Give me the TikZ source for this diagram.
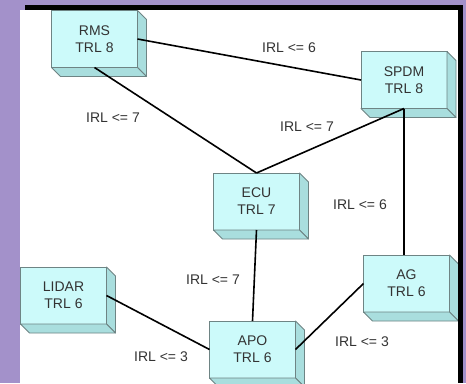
\documentclass[tikz,border=0pt]{standalone}
\usepackage{fontspec}
\setmainfont{Liberation Sans}
\usetikzlibrary{calc}
\definecolor{bgpurple}{HTML}{A391CA}
\definecolor{face}{HTML}{CCFAFA}
\definecolor{side}{HTML}{A9DEDE}
\definecolor{edgegray}{HTML}{6E8484}
\definecolor{txt}{HTML}{333333}
\tikzset{
  cubebox/.style={draw=edgegray, line width=0.8pt, fill=face, minimum width=86pt, minimum height=57pt,
    inner sep=0pt, outer sep=0pt, align=center, text=txt, font=\fontsize{14}{17}\selectfont},
  depthface/.style={draw=edgegray, line width=0.8pt, fill=side, line join=round},
  lbl/.style={text=txt, font=\fontsize{14}{17}\selectfont, inner sep=0pt},
  conn/.style={draw=black, line width=1.6pt}
}
\newcommand{\cubenode}[4]{%
  \node[cubebox] (#1) at (#2,#3) {#4};
  \path[depthface] (#1.north east) -- ($(#1.north east)+(9,9)$) -- ($(#1.south east)+(9,9)$) -- (#1.south east) -- cycle;
  \path[depthface] (#1.south west) -- (#1.south east) -- ($(#1.south east)+(9,9)$) -- ($(#1.south west)+(9,9)$) -- cycle;
}
\begin{document}
\begin{tikzpicture}[x=1pt,y=-1pt]
\useasboundingbox (0,0) rectangle (466,383);
% background
\fill[bgpurple] (0,0) rectangle (466,383);
\fill[white] (20,10) rectangle (458,383);
% boxes
\cubenode{RMS}{94.5}{39}{RMS\\TRL 8}
\cubenode{SPDM}{404}{80}{SPDM\\TRL 8}
\cubenode{ECU}{256.5}{201.5}{ECU\\TRL 7}
\cubenode{LIDAR}{63.5}{295.5}{LIDAR\\TRL 6}
\cubenode{APO}{252.5}{349.5}{APO\\TRL 6}
\cubenode{AG}{406.5}{283.5}{AG\\TRL 6}
% connectors
\draw[conn] (RMS.east) -- (SPDM.west);
\draw[conn] (RMS.south) -- (ECU.north);
\draw[conn] (SPDM.south) -- (ECU.north);
\draw[conn] (SPDM.south) -- (SPDM.south |- AG.north);
\draw[conn] (ECU.south) -- (APO.north);
\draw[conn] (LIDAR.east) -- (APO.west);
\draw[conn] (AG.west) -- (APO.east);
% labels
\node[lbl] (l1) at (289,48) {IRL <= 6};
\node[lbl] (l2) at (113,118) {IRL <= 7};
\node[lbl] (l3) at (307,127) {IRL <= 7};
\node[lbl] (l4) at (360,205) {IRL <= 6};
\node[lbl] (l5) at (213,280) {IRL <= 7};
\node[lbl] (l6) at (161,357) {IRL <= 3};
\node[lbl] (l7) at (362,342) {IRL <= 3};
% frame
\fill[black] (25,5) rectangle (463,10);
\fill[black] (458,5) rectangle (463,383);
\end{tikzpicture}
\end{document}
